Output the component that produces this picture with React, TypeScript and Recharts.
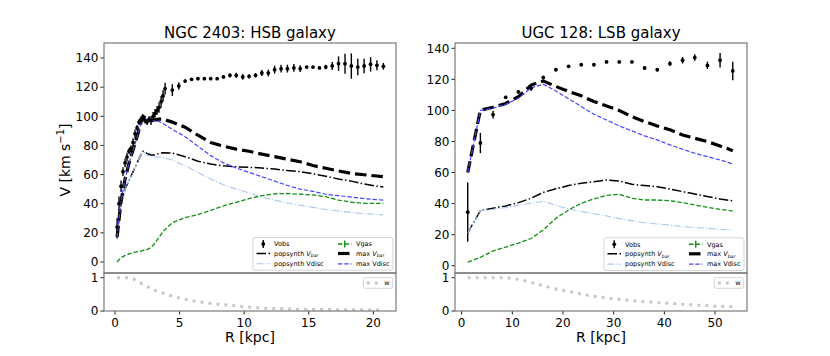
import { ComposedChart, Line, Scatter, ErrorBar, XAxis, YAxis } from 'recharts'

const FONT = 'DejaVu Sans, Verdana, sans-serif'

// NGC 2403 (HSB) observed rotation curve
const NGC_OBS_R = [
  0.16, 0.31, 0.47, 0.62, 0.78, 0.93, 1.09, 1.24, 1.4, 1.55, 1.71, 1.86, 2.02, 2.17, 2.33, 2.48, 2.64, 2.79,
  2.95, 3.1, 3.26, 3.41, 3.57, 3.72, 3.88,
  4.44, 4.94, 5.43, 5.93, 6.42, 6.92, 7.41, 7.91, 8.4, 8.9, 9.39, 9.89, 10.38, 10.88, 11.37, 11.87, 12.36,
  12.86, 13.35, 13.85, 14.34, 14.84, 15.33, 15.83, 16.32, 16.82, 17.31, 17.81, 18.3, 18.8, 19.29, 19.79,
  20.28, 20.78,
]
const NGC_OBS_V = [
  24, 40, 52, 62, 68, 72, 76, 78, 82, 88, 92, 96, 98, 99, 97, 96, 98, 97, 100, 102, 104, 106, 110, 114, 119,
  118, 120.8, 124.2, 125.4, 125.8, 125.8, 125.8, 125.8, 127, 128.1, 128.1, 127, 127.4, 128.1, 129.7, 129.7,
  132, 132.7, 132.7, 133.2, 132.7, 133.8, 133.8, 133.2, 133.8, 134.5, 136.1, 136.1, 134.5, 133.8, 134.5,
  135.7, 135, 134.3,
]
const NGC_OBS_ERR = [
  6, 5, 4, 3, 3, 3, 2, 2, 3, 3, 2, 2, 2, 2, 2, 2, 2, 3, 3, 3, 3, 3.5, 4, 4, 4,
  4, 2.5, 1, 0.8, 0.8, 0.8, 0.8, 0.8, 1, 1.5, 1.8, 2, 1.5, 1.5, 2, 2.3, 2.7, 2.7, 2.7, 2.7, 2.3, 0.8, 0.8,
  0.8, 1.5, 2.7, 5, 6.9, 8.7, 5.7, 5, 5, 3.4, 2.3,
]

// NGC 2403 model curves
const NGC_MODEL_R = [
  0.16, 0.47, 0.78, 1.09, 1.4, 1.71, 2.02, 2.17, 2.48, 2.79, 3.1, 3.41, 3.72, 4.44, 5.43, 6.42, 7.41, 8.4,
  9.39, 10.38, 11.37, 12.36, 13.35, 14.34, 15.33, 16.32, 17.31, 18.3, 19.29, 20.28, 20.78,
]
const NGC_POP_VBAR = [
  16, 40, 50, 56, 62, 68, 74, 76, 74.5, 73.5, 73.5, 74.5, 75, 74.8, 72.2, 69.2, 67.2, 66, 65.3, 65, 64.5,
  63.8, 62.8, 62, 60.5, 58.8, 57, 55.5, 53.5, 52, 51.5,
]
const NGC_POP_VDISC = [
  16, 40, 50, 56, 62, 68, 74, 76, 73.5, 72.5, 72, 72, 71.5, 70, 66, 61.5, 57, 53, 50, 47.5, 44.5, 42.5,
  40.5, 39, 37.5, 36, 35, 34, 33.2, 32.6, 32.3,
]
const NGC_VGAS = [
  0, 3, 4.5, 5.5, 6.5, 7, 7.5, 8, 8.5, 10, 13, 17, 21, 27, 30.5, 32.5, 35.5, 38.5, 41, 43.5, 45.5, 46.8,
  47, 46.5, 46, 44.8, 42.5, 41, 40.3, 40.3, 40.3,
]
const NGC_MAX_VBAR = [
  17, 42, 57, 68, 77, 86, 96, 100, 98, 97, 97.5, 98, 98, 96, 92.5, 87, 82, 79.5, 77.5, 76, 74, 72.3, 70.5,
  68.8, 66.2, 64.3, 62.5, 60.8, 59.9, 59, 58.5,
]
const NGC_MAX_VDISC = [
  17, 42, 57, 68, 77, 85.5, 95.5, 99.5, 97.5, 96.5, 97, 96.5, 95, 91, 86, 79.5, 73, 68, 64.5, 61.5, 58.5,
  55.5, 52.5, 50, 48.5, 46.5, 45.5, 44.5, 43.5, 42.8, 42.5,
]
const NGC_W_R = [0.16, 0.5, 1.0, 1.4, 1.8, 2.45, 3.1, 3.75, 4.4, 5.0, 5.7, 6.3, 7.6, 8.9, 10.2, 11.7, 14.3, 17.3, 20.8]
const NGC_W = [1, 1, 1, 0.97, 0.88, 0.74, 0.62, 0.53, 0.45, 0.39, 0.33, 0.29, 0.22, 0.17, 0.12, 0.08, 0.05, 0.04, 0.03]

// UGC 128 (LSB)
const UGC_R = [
  1.2, 3.7, 6.2, 8.7, 11.2, 13.7, 16.1, 18.6, 21.1, 23.6, 26.1, 28.6, 31.1, 33.6, 36.1, 38.6, 41.1, 43.6,
  46.0, 48.5, 51.0, 53.5,
]
const UGC_OBS_V = [
  34.5, 79, 97.3, 108.4, 112, 114.2, 121.2, 126.2, 128.4, 129.4, 129.4, 131.2, 131.2, 131.2, 127.3, 126.2,
  130.1, 132.3, 134, 129, 132.3, 125.4,
]
const UGC_OBS_ERR = [19, 6.5, 2.5, 1, 1, 1.5, 1, 0.5, 0.5, 0.5, 0.5, 0.5, 0.5, 0.5, 1, 1, 1.5, 2.1, 2.1, 2.4, 4.6, 5.9]
const UGC_POP_VBAR = [
  21, 35.5, 37, 38.5, 40.6, 43.4, 47.2, 49.5, 51.6, 53.1, 54.1, 55.2, 54.6, 52.4, 51.6, 50.9, 49.4, 47.7,
  46.2, 44.5, 43, 41.7,
]
const UGC_POP_VDISC = [
  21, 35.5, 36.3, 37.4, 39, 40.2, 41.4, 39, 36.5, 35, 33.5, 32, 30.3, 29, 27.7, 26.9, 26.2, 25.1, 24.7,
  24.1, 23.4, 23,
]
const UGC_VGAS = [
  2.3, 5.4, 9.5, 12, 14.5, 17.5, 23, 30.5, 35.9, 40.2, 43, 45.3, 46, 43.4, 42.3, 42.3, 41.9, 40.6, 39.1,
  37.6, 36.3, 35.2,
]
const UGC_MAX_VBAR = [
  60, 100.2, 102, 104.5, 108.8, 116.3, 119, 115.4, 112.2, 109.4, 105.7, 102.9, 99.9, 96, 92.8, 90, 87.5,
  84.2, 82.1, 79.9, 77.1, 74.1,
]
const UGC_MAX_VDISC = [
  60, 100, 101.5, 104, 107.8, 114.5, 116.9, 112.5, 107.5, 102.5, 97.5, 93.8, 90, 86.8, 83.6, 81, 77.8, 75,
  72.4, 70.2, 68.1, 65.5,
]
const UGC_W = [1, 1, 1, 1, 0.95, 0.86, 0.76, 0.66, 0.59, 0.51, 0.44, 0.39, 0.35, 0.31, 0.28, 0.25, 0.23, 0.2, 0.18, 0.16, 0.14, 0.13]

const V_TICKS = [0, 20, 40, 60, 80, 100, 120, 140]
const NGC_R_TICKS = [0, 5, 10, 15, 20]
const UGC_R_TICKS = [0, 10, 20, 30, 40, 50]

const C_POP_VDISC = '#a9c8f2'
const C_MAX_VDISC = '#4646ff'
const C_GAS = '#138f13'
const C_W = '#c8c8c8'

const zip = (rs: number[], vs: number[]) => rs.map((r, i) => ({ r, v: vs[i] }))
const zipErr = (rs: number[], vs: number[], es: number[]) => rs.map((r, i) => ({ r, v: vs[i], e: es[i] }))

const tickStyle = { fill: '#000', fontSize: 12, fontFamily: FONT }

const ObsDot = (props: any) => <circle cx={props.cx} cy={props.cy} r={1.9} fill="#000" />

interface LineSpec {
  data: { r: number; v: number }[]
  color: string
  width: number
  dash: string
}

function MainPanel({ left, axisWidth, xDomain, yDomain, obs, lines }: {
  left: number
  axisWidth: number
  xDomain: [number, number]
  yDomain: [number, number]
  obs: { r: number; v: number; e: number }[]
  lines: LineSpec[]
}) {
  return (
    <div style={{ position: 'absolute', left, top: 43 }}>
      <ComposedChart width={axisWidth + 293} height={230} margin={{ top: 0, right: 1, bottom: 0, left: 0 }}>
        <XAxis type="number" dataKey="r" domain={xDomain} allowDataOverflow hide />
        <YAxis
          type="number"
          domain={yDomain}
          ticks={V_TICKS}
          allowDataOverflow
          width={axisWidth}
          axisLine={false}
          tickSize={3.5}
          tickMargin={2}
          tick={tickStyle}
          tickLine={{ stroke: '#222' }}
          interval={0}
        />
        <Scatter data={obs} dataKey="v" isAnimationActive={false} shape={ObsDot}>
          <ErrorBar dataKey="e" direction="y" width={0} stroke="#000" strokeWidth={1.4} />
        </Scatter>
        {lines.map((l, i) => (
          <Line
            key={i}
            data={l.data}
            dataKey="v"
            type="linear"
            stroke={l.color}
            strokeWidth={l.width}
            strokeDasharray={l.dash}
            dot={false}
            activeDot={false}
            isAnimationActive={false}
          />
        ))}
      </ComposedChart>
    </div>
  )
}

// weight panel; svg starts 10px above the plot so the "1" label is not clipped
function WPanel({ left, axisWidth, xDomain, xTicks, data }: {
  left: number
  axisWidth: number
  xDomain: [number, number]
  xTicks: number[]
  data: { r: number; v: number }[]
}) {
  return (
    <div style={{ position: 'absolute', left, top: 263 }}>
      <ComposedChart width={axisWidth + 293} height={88} margin={{ top: 10, right: 1, bottom: 0, left: 0 }}>
        <XAxis
          type="number"
          dataKey="r"
          domain={xDomain}
          ticks={xTicks}
          allowDataOverflow
          height={40}
          axisLine={false}
          tickSize={3.5}
          tickMargin={3.5}
          tick={tickStyle}
          tickLine={{ stroke: '#222' }}
          interval={0}
        />
        <YAxis
          type="number"
          domain={[0, 1.141]}
          ticks={[0, 1]}
          allowDataOverflow
          width={axisWidth}
          axisLine={false}
          tickSize={3.5}
          tickMargin={2}
          tick={tickStyle}
          tickLine={{ stroke: '#222' }}
          interval={0}
        />
        <Line
          data={data}
          dataKey="v"
          type="linear"
          stroke={C_W}
          strokeWidth={3}
          strokeDasharray="3 5"
          dot={false}
          activeDot={false}
          isAnimationActive={false}
        />
      </ComposedChart>
    </div>
  )
}

function Handle({ x, y, kind }: { x: number; y: number; kind: string }) {
  const x2 = x + 13.5
  const cx = x + 6.75
  switch (kind) {
    case 'obs':
      return (
        <g>
          <line x1={cx} x2={cx} y1={y - 4} y2={y + 4} stroke="#000" strokeWidth={1.4} />
          <circle cx={cx} cy={y} r={1.9} fill="#000" />
        </g>
      )
    case 'popbar':
      return <line x1={x} x2={x2} y1={y} y2={y} stroke="#000" strokeWidth={1.5} strokeDasharray="9.6 2.4 1.5 2.4" />
    case 'popdisc':
      return <line x1={x} x2={x2} y1={y} y2={y} stroke={C_POP_VDISC} strokeWidth={1.1} strokeDasharray="7 1.8 1.1 1.8" />
    case 'gas':
      return (
        <g>
          <line x1={x} x2={x2} y1={y} y2={y} stroke={C_GAS} strokeWidth={1.4} strokeDasharray="4.5 2" />
          <line x1={cx} x2={cx} y1={y - 3.5} y2={y + 3.5} stroke={C_GAS} strokeWidth={1.4} />
        </g>
      )
    case 'maxbar':
      return <line x1={x} x2={x2} y1={y} y2={y} stroke="#000" strokeWidth={3.2} strokeDasharray="11.5 5" />
    case 'maxdisc':
      return <line x1={x} x2={x2} y1={y} y2={y} stroke={C_MAX_VDISC} strokeWidth={1.2} strokeDasharray="4.4 1.9" />
    default:
      return <line x1={x} x2={x2 - 2} y1={y} y2={y} stroke={C_W} strokeWidth={3} strokeDasharray="3 5" />
  }
}

function Label({ x, y, text, sub }: { x: number; y: number; text: string; sub?: boolean }) {
  if (sub) {
    return (
      <text x={x} y={y + 2.3} fontSize={6.5} fontFamily={FONT} fill="#000">
        {text} <tspan fontStyle="italic">V</tspan>
        <tspan fontStyle="italic" fontSize={4.6} dy={1.6}>bar</tspan>
      </text>
    )
  }
  return (
    <text x={x} y={y + 2.3} fontSize={6.5} fontFamily={FONT} fill="#000">
      {text}
    </text>
  )
}

function ModelLegend({ x, y }: { x: number; y: number }) {
  const rows = [y + 6.5, y + 16, y + 26.3]
  return (
    <g>
      <rect x={x} y={y} width={140} height={32.7} rx={2} fill="#fff" fillOpacity={0.8} stroke="#d0d0d0" strokeWidth={0.9} />
      <Handle x={x + 3.5} y={rows[0]} kind="obs" />
      <Label x={x + 21} y={rows[0]} text="Vobs" />
      <Handle x={x + 3.5} y={rows[1]} kind="popbar" />
      <Label x={x + 21} y={rows[1]} text="popsynth" sub />
      <Handle x={x + 3.5} y={rows[2]} kind="popdisc" />
      <Label x={x + 21} y={rows[2]} text="popsynth Vdisc" />
      <Handle x={x + 85} y={rows[0]} kind="gas" />
      <Label x={x + 103} y={rows[0]} text="Vgas" />
      <Handle x={x + 85} y={rows[1]} kind="maxbar" />
      <Label x={x + 103} y={rows[1]} text="max" sub />
      <Handle x={x + 85} y={rows[2]} kind="maxdisc" />
      <Label x={x + 103} y={rows[2]} text="max Vdisc" />
    </g>
  )
}

function WLegend({ x, y }: { x: number; y: number }) {
  return (
    <g>
      <rect x={x} y={y} width={29.4} height={10.6} rx={2} fill="#fff" fillOpacity={0.8} stroke="#d0d0d0" strokeWidth={0.9} />
      <Handle x={x + 3.5} y={y + 5.3} kind="w" />
      <Label x={x + 21} y={y + 5.3} text="w" />
    </g>
  )
}

function Overlay() {
  const frame = { fill: 'none', stroke: '#7a7a7a', strokeWidth: 1.2 }
  return (
    <svg width={830} height={356} style={{ position: 'absolute', left: 0, top: 0, pointerEvents: 'none' }}>
      <rect x={104} y={43} width={292} height={230} {...frame} />
      <rect x={104} y={273} width={292} height={38} {...frame} />
      <rect x={455} y={43} width={292} height={230} {...frame} />
      <rect x={455} y={273} width={292} height={38} {...frame} />

      <text x={250} y={38.3} textAnchor="middle" fontSize={15} fontFamily={FONT} fill="#000">
        NGC 2403: HSB galaxy
      </text>
      <text x={601} y={38.3} textAnchor="middle" fontSize={15} fontFamily={FONT} fill="#000">
        UGC 128: LSB galaxy
      </text>

      <text x={250} y={342.3} textAnchor="middle" fontSize={14} fontFamily={FONT} fill="#000">R [kpc]</text>
      <text x={601} y={342.3} textAnchor="middle" fontSize={14} fontFamily={FONT} fill="#000">R [kpc]</text>

      <text transform="translate(69.5,160) rotate(-90)" textAnchor="middle" fontSize={14} fontFamily={FONT} fill="#000">
        V [km s<tspan fontSize={10} dy={-5.5}>−1</tspan>
        <tspan dy={5.5}>]</tspan>
      </text>

      <ModelLegend x={253} y={237.5} />
      <ModelLegend x={604} y={237.8} />
      <WLegend x={363.3} y={277.7} />
      <WLegend x={714.3} y={277.7} />
    </svg>
  )
}

export default function App() {
  const ngcLines: LineSpec[] = [
    { data: zip(NGC_MODEL_R, NGC_POP_VBAR), color: '#000', width: 1.5, dash: '9.6 2.4 1.5 2.4' },
    { data: zip(NGC_MODEL_R, NGC_POP_VDISC), color: C_POP_VDISC, width: 1.1, dash: '7 1.8 1.1 1.8' },
    { data: zip(NGC_MODEL_R, NGC_VGAS), color: C_GAS, width: 1.3, dash: '4.5 2' },
    { data: zip(NGC_MODEL_R, NGC_MAX_VBAR), color: '#000', width: 3.2, dash: '11.5 5' },
    { data: zip(NGC_MODEL_R, NGC_MAX_VDISC), color: C_MAX_VDISC, width: 1.2, dash: '4.4 1.9' },
  ]
  const ugcLines: LineSpec[] = [
    { data: zip(UGC_R, UGC_POP_VBAR), color: '#000', width: 1.5, dash: '9.6 2.4 1.5 2.4' },
    { data: zip(UGC_R, UGC_POP_VDISC), color: C_POP_VDISC, width: 1.1, dash: '7 1.8 1.1 1.8' },
    { data: zip(UGC_R, UGC_VGAS), color: C_GAS, width: 1.3, dash: '4.5 2' },
    { data: zip(UGC_R, UGC_MAX_VBAR), color: '#000', width: 3.2, dash: '11.5 5' },
    { data: zip(UGC_R, UGC_MAX_VDISC), color: C_MAX_VDISC, width: 1.2, dash: '4.4 1.9' },
  ]

  return (
    <div style={{ position: 'absolute', left: 0, top: 0, width: 830, height: 356, background: '#fff', overflow: 'hidden' }}>
      <MainPanel
        left={0}
        axisWidth={104}
        xDomain={[-0.852, 21.758]}
        yDomain={[-7.55, 150.3]}
        obs={zipErr(NGC_OBS_R, NGC_OBS_V, NGC_OBS_ERR)}
        lines={ngcLines}
      />
      <WPanel left={0} axisWidth={104} xDomain={[-0.852, 21.758]} xTicks={NGC_R_TICKS} data={zip(NGC_W_R, NGC_W)} />
      <MainPanel
        left={400}
        axisWidth={55}
        xDomain={[-1.31, 56.31]}
        yDomain={[-4.7, 143.41]}
        obs={zipErr(UGC_R, UGC_OBS_V, UGC_OBS_ERR)}
        lines={ugcLines}
      />
      <WPanel left={400} axisWidth={55} xDomain={[-1.31, 56.31]} xTicks={UGC_R_TICKS} data={zip(UGC_R, UGC_W)} />
      <Overlay />
    </div>
  )
}
